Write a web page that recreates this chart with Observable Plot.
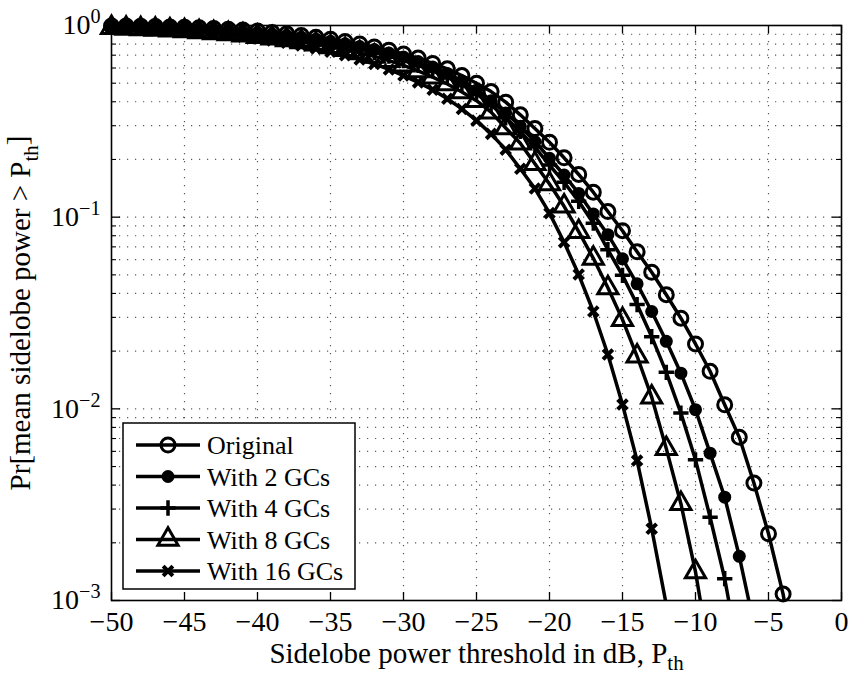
<!DOCTYPE html>
<html>
<head>
<meta charset="utf-8">
<script src="https://cdn.jsdelivr.net/npm/d3@7"></script>
<script src="https://cdn.jsdelivr.net/npm/@observablehq/plot@0.6"></script>
<style>
  html, body { margin: 0; padding: 0; background: #fff; }
  #chart svg { display: block; }
</style>
</head>
<body>
<div id="chart"></div>
<script>
// ---------- data ----------
const thresholdsDb = [-50,-49,-48,-47,-46,-45,-44,-43,-42,-41,-40,-39,-38,-37,-36,-35,-34,-33,-32,-31,
  -30,-29,-28,-27,-26,-25,-24,-23,-22,-21,-20,-19,-18,-17,-16,-15,-14,-13,-12,-11,-10,-9,-8,-7,-6,-5,-4,-3];

const original = [0.995,0.993,0.99,0.987,0.983,0.978,0.972,0.965,0.956,0.946,0.935,0.92,0.905,0.888,0.868,0.848,0.826,0.801,0.773,0.743,
  0.711,0.676,0.634,0.594,0.548,0.5,0.452,0.398,0.342,0.29,0.246,0.204,0.167,0.135,0.107,0.085,0.066,0.0516,0.0394,0.0297,
  0.0218,0.0157,0.0105,0.0071,0.0041,0.00223,0.00108,0.0004];

const gc2 = [0.988,0.985,0.981,0.977,0.972,0.966,0.959,0.951,0.941,0.93,0.917,0.903,0.887,0.869,0.849,0.827,0.803,0.777,0.749,0.718,
  0.685,0.648,0.607,0.562,0.513,0.46,0.405,0.35,0.298,0.248,0.203,0.166,0.133,0.104,0.081,0.0606,0.0449,0.0322,0.0225,0.01535,
  0.0099,0.00587,0.00346,0.0017,0.00075];

const gc4 = [0.984,0.981,0.977,0.972,0.966,0.96,0.952,0.943,0.933,0.921,0.907,0.892,0.875,0.855,0.833,0.809,0.783,0.755,0.725,0.692,
  0.657,0.62,0.58,0.537,0.49,0.44,0.385,0.33,0.28,0.232,0.187,0.152,0.121,0.093,0.0676,0.0497,0.035,0.0238,0.0155,0.0095,
  0.00542,0.00272,0.0013,0.0005];

const gc8 = [0.973,0.967,0.961,0.954,0.946,0.937,0.927,0.916,0.904,0.89,0.875,0.858,0.84,0.82,0.798,0.774,0.748,0.72,0.69,0.656,
  0.62,0.58,0.538,0.495,0.45,0.405,0.353,0.292,0.243,0.19,0.149,0.114,0.084,0.061,0.0428,0.0292,0.0188,0.0115,0.0062,0.0032,
  0.00141,0.0005];

const gc16 = [0.972,0.966,0.959,0.951,0.942,0.932,0.92,0.907,0.892,0.875,0.856,0.835,0.812,0.787,0.76,0.73,0.70,0.665,0.63,0.59,
  0.548,0.505,0.462,0.415,0.367,0.319,0.272,0.225,0.179,0.141,0.105,0.074,0.0502,0.0322,0.0192,0.01054,0.00537,0.00237,0.00095];

const seriesNames = ["Original", "With 2 GCs", "With 4 GCs", "With 8 GCs", "With 16 GCs"];
const seriesValues = [original, gc2, gc4, gc8, gc16];

const xTickValues = [-50,-45,-40,-35,-30,-25,-20,-15,-10,-5,0];
const xGridValues = [-45,-40,-35,-30,-25,-20,-15,-10,-5];
const yTickValues = [0.001, 0.01, 0.1, 1];
const yMinorValues = [0.002,0.003,0.004,0.005,0.006,0.007,0.008,0.009,
  0.02,0.03,0.04,0.05,0.06,0.07,0.08,0.09,
  0.2,0.3,0.4,0.5,0.6,0.7,0.8,0.9];
const yGridValues = [0.01, 0.1].concat(yMinorValues);
const xLabel = "Sidelobe power threshold in dB, P_th";
const yLabel = "Pr[mean sidelobe power > P_th]";

// ---------- layout ----------
const W = 852, H = 677, ML = 111, MR = 11, MT = 25, MB = 77;
const PW = W - ML - MR, PH = H - MT - MB;
const FONT = "'Liberation Serif','Times New Roman',Times,serif";

const rows = [];
seriesValues.forEach((vals, s) => vals.forEach((v, i) => rows.push({series: seriesNames[s], x: thresholdsDb[i], y: v})));
const visible = rows.filter(d => d.y >= 0.001);

const markers = {
  "Original":    {symbol: "circle",   r: 7,   fill: "none", stroke: "#000", strokeWidth: 3},
  "With 2 GCs":  {symbol: "circle",   r: 6.5, fill: "#000", stroke: "none", strokeWidth: 0},
  "With 4 GCs":  {symbol: "plus",     r: 5,   fill: "none", stroke: "#000", strokeWidth: 3.5},
  "With 8 GCs":  {symbol: "triangle", r: 7.5, fill: "none", stroke: "#000", strokeWidth: 3},
  "With 16 GCs": {symbol: "times",    r: 4.5, fill: "none", stroke: "#000", strokeWidth: 4}
};

const gridStyle = {stroke: "#000", strokeOpacity: 0.65, strokeWidth: 1.2, strokeDasharray: "1.2,6.8"};

const seriesMarks = seriesNames.flatMap(name => [
  Plot.line(rows.filter(d => d.series === name), {x: "x", y: "y", stroke: "#000", strokeWidth: 3.5, clip: true}),
  Plot.dot(visible.filter(d => d.series === name), {x: "x", y: "y", ...markers[name]})
]);

const plot = Plot.plot({
  width: W, height: H,
  marginLeft: ML, marginRight: MR, marginTop: MT, marginBottom: MB,
  style: {fontFamily: FONT, fontSize: "28px", color: "#000", background: "#fff"},
  x: {domain: [-50, 0], ticks: xTickValues, tickFormat: d => d < 0 ? "\u2212" + (-d) : String(d),
      tickSize: 0, tickPadding: 11, label: xLabel, labelAnchor: "center", labelOffset: 62},
  y: {type: "log", domain: [0.001, 1], ticks: yTickValues, tickFormat: d => "10^" + Math.round(Math.log10(d)),
      tickSize: 0, tickPadding: 11, label: yLabel, labelAnchor: "center", labelOffset: 102},
  marks: [
    Plot.ruleX(xGridValues, {x: d => d, ...gridStyle}),
    Plot.ruleY(yGridValues, {y: d => d, ...gridStyle}),
    ...seriesMarks,
    Plot.tickX(xTickValues, {x: d => d, insetTop: PH - 8, stroke: "#000", strokeWidth: 1.3}),
    Plot.tickX(xTickValues, {x: d => d, insetBottom: PH - 8, stroke: "#000", strokeWidth: 1.3}),
    Plot.tickY(yTickValues, {y: d => d, insetRight: PW - 9, stroke: "#000", strokeWidth: 1.3}),
    Plot.tickY(yTickValues, {y: d => d, insetLeft: PW - 9, stroke: "#000", strokeWidth: 1.3}),
    Plot.tickY(yMinorValues, {y: d => d, insetRight: PW - 5, stroke: "#000", strokeWidth: 1.1}),
    Plot.tickY(yMinorValues, {y: d => d, insetLeft: PW - 5, stroke: "#000", strokeWidth: 1.1}),
    Plot.frame({stroke: "#000", strokeWidth: 1.6})
  ]
});

document.getElementById("chart").appendChild(plot);

// ---------- text formatting: superscripts / subscripts, no arrows ----------
const svg = d3.select(plot);
svg.selectAll("text").each(function () {
  const t = this.textContent.replace(/\s*[\u2190-\u2193]\s*/g, "").trim();
  const m = /^10\^(-?\d+)$/.exec(t);
  if (m) {
    const e = m[1].replace("-", "\u2212");
    this.innerHTML = `10<tspan dy="-0.55em" font-size="0.72em">${e}</tspan>`;
  } else if (t.includes("P_th")) {
    const [a, b] = t.split("P_th");
    this.setAttribute("font-size", "29px");
    this.innerHTML = `${a}P<tspan dy="0.38em" font-size="0.72em">th</tspan><tspan dy="-0.38em">${b || ""}</tspan>`;
  }
});

// ---------- legend (inside the axes, lower left) ----------
const LX = 123, LY = 423, LW = 232, LH = 166;
const lg = svg.append("g").attr("font-family", FONT).attr("font-size", 26).attr("text-anchor", "start");
lg.append("rect").attr("x", LX).attr("y", LY).attr("width", LW).attr("height", LH)
  .attr("fill", "#fff").attr("stroke", "#000").attr("stroke-width", 1.5);
const symMap = {circle: d3.symbolCircle, plus: d3.symbolPlus, triangle: d3.symbolTriangle, times: d3.symbolTimes};
seriesNames.forEach((name, i) => {
  const cy = LY + 22 + i * 31.5;
  lg.append("line").attr("x1", LX + 13).attr("x2", LX + 77).attr("y1", cy).attr("y2", cy)
    .attr("stroke", "#000").attr("stroke-width", 3.5);
  const m = markers[name];
  lg.append("path").attr("transform", `translate(${LX + 45},${cy})`)
    .attr("d", d3.symbol(symMap[m.symbol], Math.PI * m.r * m.r)())
    .attr("fill", m.fill).attr("stroke", m.stroke).attr("stroke-width", m.strokeWidth);
  lg.append("text").attr("x", LX + 84).attr("y", cy).attr("dy", "0.35em").attr("fill", "#000")
    .attr("text-anchor", "start").text(name);
});
</script>
</body>
</html>
